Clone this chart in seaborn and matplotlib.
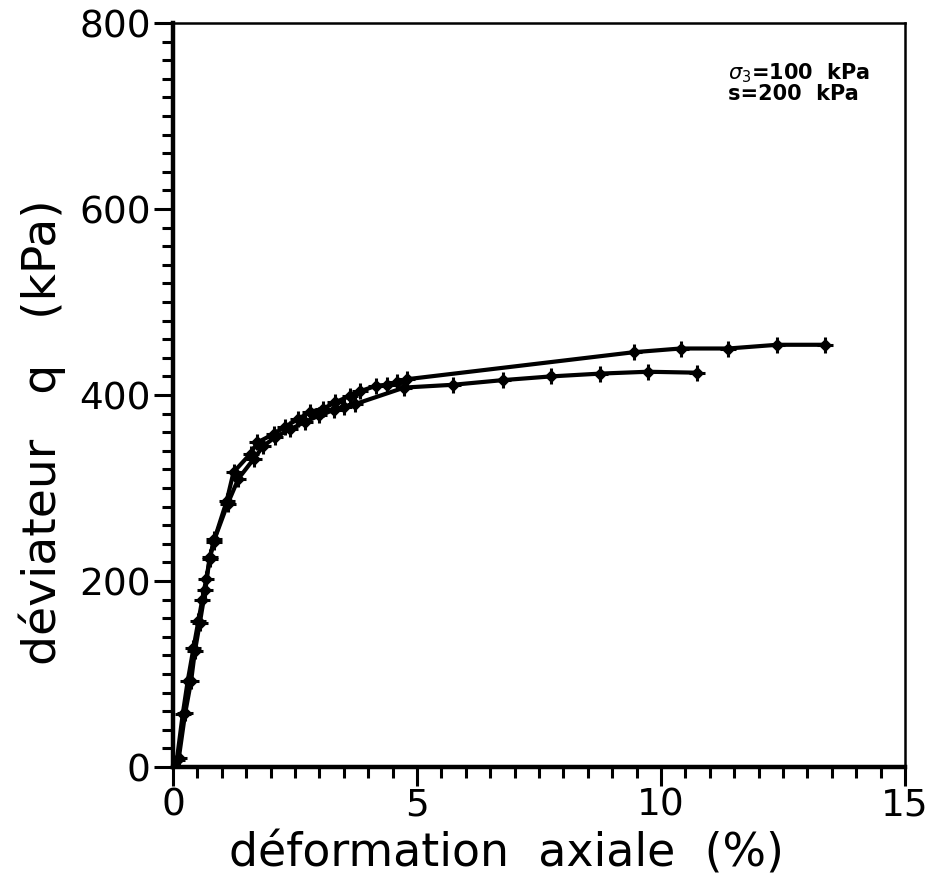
import matplotlib
matplotlib.use("Agg")
import matplotlib.pyplot as plt
import seaborn as sns
import pandas as pd
from matplotlib.ticker import MultipleLocator

# ---- data ----
strain_a = [0, 0.08, 0.2, 0.3, 0.42, 0.52, 0.6, 0.68, 0.76, 0.85, 1.1, 1.24, 1.59, 1.73,
            2.06, 2.30, 2.56, 2.81, 3.07, 3.32, 3.62, 3.83, 4.17, 4.38, 4.60, 4.80,
            9.44, 10.40, 11.38, 12.38, 13.37]
q_a = [0, 8, 57, 92, 128, 157, 180, 202, 226, 245, 286, 317, 337, 349,
       358, 366, 374, 382, 385, 392, 399, 404, 410, 411, 414, 417,
       446, 450, 450, 454, 454]

strain_b = [0, 0.12, 0.25, 0.37, 0.45, 0.55, 0.66, 0.75, 0.83, 1.12, 1.34, 1.65, 1.85,
            2.1, 2.4, 2.7, 3.0, 3.3, 3.5, 3.72, 4.74, 5.74, 6.76, 7.75, 8.75, 9.73, 10.73]
q_b = [0, 10, 58, 92, 125, 155, 190, 224, 242, 283, 310, 331, 345,
       355, 363, 371, 378, 384, 387, 390, 408, 411, 416, 420, 423, 425, 424]

x_ticks = [0, 5, 10, 15]
y_ticks = [0, 200, 400, 600, 800]
annot_lines = [r"$\sigma_3$=100  kPa", "s=200  kPa"]

df_a = pd.DataFrame({"x": strain_a, "y": q_a})
df_b = pd.DataFrame({"x": strain_b, "y": q_b})

sns.set_style("white")
plt.rcParams["font.family"] = ["DejaVu Sans"]
plt.rcParams["text.color"] = "black"
plt.rcParams["axes.labelcolor"] = "black"
plt.rcParams["xtick.color"] = "black"
plt.rcParams["ytick.color"] = "black"

fig = plt.figure(figsize=(9.31, 8.78), dpi=100)
ax = fig.add_axes([173 / 931, 1 - 768 / 878, (905 - 173) / 931, (768 - 24) / 878])

for df in (df_a, df_b):
    sns.lineplot(data=df, x="x", y="y", ax=ax, color="black", lw=3,
                 marker="D", markersize=6, markeredgecolor="black", sort=False,
                 estimator=None)
    sns.scatterplot(data=df, x="x", y="y", ax=ax, color="black", marker="+",
                    s=130, linewidth=2.2, zorder=4)

ax.set_xlim(0, 15)
ax.set_ylim(0, 800)
ax.set_xticks(x_ticks)
ax.set_yticks(y_ticks)
ax.xaxis.set_minor_locator(MultipleLocator(0.5))
ax.yaxis.set_minor_locator(MultipleLocator(20))
ax.tick_params(axis="both", which="major", direction="out", length=14, width=2.2,
               labelsize=27, colors="black", pad=2)
ax.tick_params(axis="both", which="minor", direction="out", length=8, width=2.2,
               colors="black")
ax.tick_params(axis="x", which="major", pad=0)
ax.tick_params(bottom=True, left=True, which="both")

for side in ("left", "bottom"):
    ax.spines[side].set_linewidth(3.2)
for side in ("top", "right"):
    ax.spines[side].set_linewidth(1.8)
for s in ax.spines.values():
    s.set_color("black")

ax.set_xlabel("déformation  axiale  (%)", fontsize=33, color="black")
ax.xaxis.set_label_coords(0.456, (768 - 832) / 744)
ax.set_ylabel("déviateur   q   (kPa)", fontsize=34, color="black")
ax.yaxis.set_label_coords((66 - 173) / 732, 0.452)

ax.text(11.37, 760, annot_lines[0], fontsize=15, fontweight="bold", va="top", ha="left")
ax.text(11.37, 735, annot_lines[1], fontsize=15, fontweight="bold", va="top", ha="left")

fig.savefig("out.png", dpi=100, facecolor="white")
